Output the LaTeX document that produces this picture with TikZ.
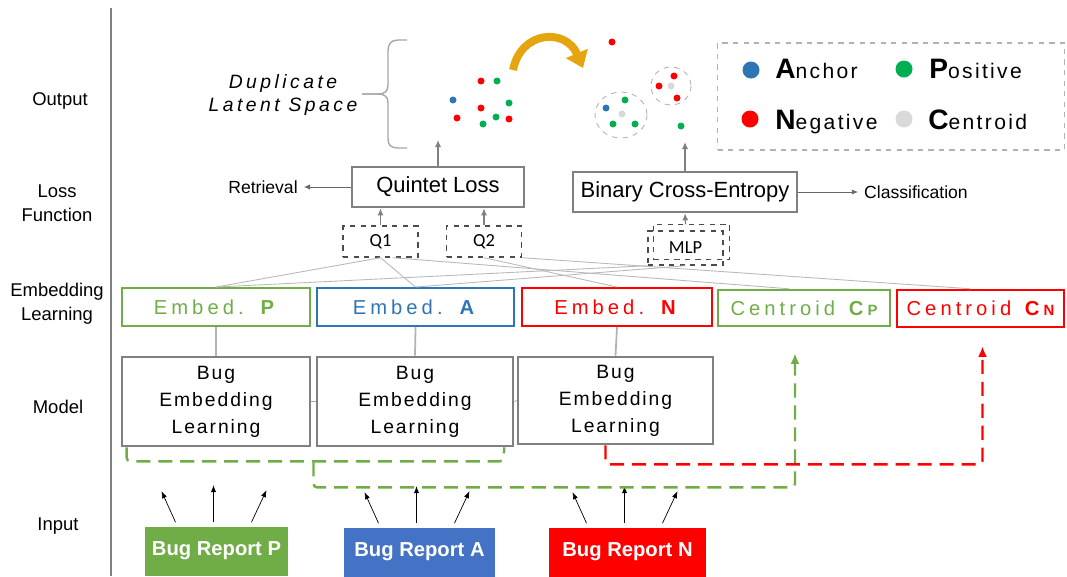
\documentclass[tikz,border=0pt]{standalone}
\usepackage{fontspec}
\setmainfont{Liberation Sans}
\newfontfamily\calfont{Carlito}
\newfontfamily\spacedfont[LetterSpace=20]{Liberation Sans}
\newfontfamily\dupfont[LetterSpace=18]{Liberation Sans}
\newfontfamily\modelfont[LetterSpace=10]{Liberation Sans}
\newfontfamily\legfont[LetterSpace=11]{Liberation Sans}
\usepackage{tikz}
\usetikzlibrary{arrows.meta,positioning,calc}

\definecolor{pgreen}{RGB}{112,173,71}
\definecolor{ablue}{RGB}{46,117,182}
\definecolor{repblue}{RGB}{68,114,196}
\definecolor{nred}{RGB}{255,0,0}
\definecolor{dotgreen}{RGB}{0,176,80}
\definecolor{dotblue}{RGB}{46,117,182}
\definecolor{centgray}{RGB}{217,217,217}
\definecolor{boxgray}{RGB}{128,128,128}
\definecolor{gold}{RGB}{228,165,15}

\begin{document}
\begin{tikzpicture}[
    x=0.02cm, y=-0.02cm,
    sidelab/.style={font=\fontsize{10.5}{13.6}\selectfont, align=center},
    lossbox/.style={rectangle, draw=boxgray, line width=1.5pt, minimum height=0.8cm, font=\fontsize{12.5}{15}\selectfont},
    qbox/.style={rectangle, draw=black!70, dashed, line width=0.8pt, minimum width=1.5cm, minimum height=0.62cm, font=\calfont\fontsize{10.5}{12}\selectfont},
    embbox/.style={rectangle, draw, line width=1.4pt, minimum height=0.75cm, font=\spacedfont\fontsize{11.5}{13}\selectfont},
    belbox/.style={rectangle, draw=boxgray, line width=1.5pt, align=center, minimum height=1.78cm, font=\modelfont\fontsize{11}{15.3}\selectfont},
    repbox/.style={rectangle, minimum height=0.98cm, text=white, font=\bfseries\fontsize{11.5}{13}\selectfont},
    legtext/.style={anchor=base west, inner sep=0pt, font=\legfont\fontsize{12}{14}\selectfont},
    link/.style={draw=gray!55, line width=0.5pt},
    upline/.style={draw=gray!60, line width=1pt},
    feed/.style={-{Latex[length=4pt,width=3pt]}, line width=0.4pt},
    grayup/.style={-{Latex[length=4pt,width=3.5pt]}, draw=gray, line width=0.7pt},
    route/.style={line width=1.4pt, dash pattern=on 8pt off 4.5pt, rounded corners=2pt},
    legdot/.style={circle, inner sep=0pt, minimum size=0.34cm}
]
    \useasboundingbox (0,0) rectangle (1067,576);

    % Row labels
    \node[sidelab] (lOut) at (60,101) {Output};
    \node[sidelab] (lLoss) at (57,203) {Loss\\Function};
    \node[sidelab] (lEmb) at (57,304) {Embedding\\Learning};
    \node[sidelab] (lMod) at (58,407) {Model};
    \node[sidelab] (lIn) at (58,526) {Input};
    \draw[gray, line width=0.8pt] (111,8) -- (111,576);

    % Input
    \node[repbox, fill=pgreen, minimum width=2.86cm] (repP) at (216.5,551) {Bug Report P};
    \node[repbox, fill=repblue, minimum width=3.02cm] (repA) at (419.5,552) {Bug Report A};
    \node[repbox, fill=nred, minimum width=3.14cm] (repN) at (627.5,552) {Bug Report N};
    \foreach \r in {repP,repA,repN}{
        \draw[feed] ($(\r.north)+(-41,-4)$) -- ++(-14,-31);
        \draw[feed] ($(\r.north)+(-3,-4)$) -- ++(0,-37);
        \draw[feed] ($(\r.north)+(35,-4)$) -- ++(15,-32);
    }

    % Model
    \node[belbox, minimum width=3.76cm] (bel1) at (216,401.5) {Bug\\Embedding\\Learning};
    \node[belbox, minimum width=3.92cm] (bel2) at (415,401.5) {Bug\\Embedding\\Learning};
    \node[belbox, minimum width=3.9cm, minimum height=1.74cm] (bel3) at (615.5,400.5) {Bug\\Embedding\\Learning};
    \draw[gray!70, line width=0.4pt, densely dashed] (bel1.east) -- (bel2.west);
    \draw[gray!70, line width=0.4pt, densely dashed] (bel2.east) -- (bel3.west);

    % Embedding learning
    \node[embbox, draw=pgreen, text=pgreen, minimum width=3.76cm] (embP) at (216,307) {Embed. \textbf{P}};
    \node[embbox, draw=ablue, text=ablue, minimum width=3.94cm] (embA) at (415.5,307) {Embed. \textbf{A}};
    \node[embbox, draw=nred, text=nred, minimum width=3.8cm] (embN) at (617,307) {Embed. \textbf{N}};
    \node[embbox, draw=pgreen, text=pgreen, minimum width=3.44cm, minimum height=0.72cm] (cenP) at (804,308) {Centroid \textbf{C}{\bfseries\fontsize{8.5}{10}\selectfont P}};
    \node[embbox, draw=nred, text=nred, minimum width=3.34cm, minimum height=0.74cm] (cenN) at (980.5,308.5) {Centroid \textbf{C}{\bfseries\fontsize{8.5}{10}\selectfont N}};
    \draw[upline] (embP.south) -- (bel1.north);
    \draw[upline] (embA.south) -- (bel2.north);
    \draw[upline] (embN.south) -- (bel3.north);

    % Centroid routes
    \coordinate (cpIn) at ($(cenP.south)+(-9,26)$);
    \coordinate (cnIn) at ($(cenN.south)+(2,18)$);
    \draw[route, draw=pgreen] ($(bel1.south west)+(6,0)$) -- ++(0,14) -- ($(bel2.south east)+(-11,14)$) -- ($(bel2.south east)+(-10,0)$);
    \draw[route, draw=pgreen, -{Latex[length=6pt,width=5pt]}] ($(bel1.south east)!0.5!(bel2.south west)+(0,15)$) -- ++(0,25) -| (cpIn);
    \draw[route, draw=nred, -{Latex[length=6pt,width=5pt]}] ($(bel3.south)+(-10,0)$) -- ++(0,19) -| (cnIn);

    % Loss functions
    \node[lossbox, minimum width=3.44cm] (quintet) at (438,187) {Quintet Loss};
    \node[lossbox, minimum width=4.48cm] (bce) at (685,192) {Binary Cross-Entropy};
    \node[qbox] (q1) at (380.5,241.5) {Q1};
    \node[qbox] (q2) at (484,241.5) {Q2};
    \node[qbox, minimum height=0.68cm] (mlp) at (685.5,248) {MLP};
    \draw[dashed, draw=black!70, line width=0.8pt] ($(mlp.south west)+(6,-6)$) -- ($(mlp.south east)+(6,-6)$) -- ($(mlp.north east)+(6,-6)$) -- ($(mlp.north west)+(6,-6)$) -- cycle;
    \draw[grayup] (q1.north) -- (q1.north |- quintet.south);
    \draw[grayup] (q2.north) -- (q2.north |- quintet.south);
    \draw[grayup] ($(mlp.north)+(0,-6)$) -- (bce.south);

    \node[font=\fontsize{10}{12}\selectfont] (retr) at (263,187) {Retrieval};
    \node[font=\fontsize{10}{12}\selectfont, anchor=west] (clas) at (858,192) {Classification};
    \draw[-{Latex[length=3.5pt,width=3pt]}, draw=gray!80!black, line width=0.5pt] (quintet.west) -- (retr.east);
    \draw[-{Latex[length=3.5pt,width=3pt]}, draw=gray!80!black, line width=0.5pt] (bce.east) -- (clas.west);

    % Inputs of the losses
    \draw[link] (q1.south) -- (embP.north);
    \draw[link] (q1.south) -- (embA.north);
    \draw[link] ($(q1.south)+(12,0)$) -- ($(cenP.north)+(-15,0)$);
    \draw[link] (q2.south) -- (embN.north);
    \draw[link] (q2.south east) -- ($(cenN.north)+(-10,0)$);
    \draw[link] (mlp.south west) -- (embP.north);
    \draw[link] (mlp.south) -- (embA.north);

    % Output
    \coordinate (dupIn) at (438,140);
    \coordinate (clusIn) at (685,142);
    \draw[grayup] (quintet.north) -- (dupIn);
    \draw[grayup] (bce.north) -- (clusIn);

    \node[font=\dupfont\itshape\fontsize{11}{13.6}\selectfont, align=center] (dup) at (283,95) {Duplicate\\Latent Space};
    \draw[gray!70, line width=0.8pt] (407,40) -- (398,40) .. controls (391,40) and (388,44) .. (388,51) -- (388,85) .. controls (388,91) and (385,94) .. (378,94) -- (362,94);
    \draw[gray!70, line width=0.8pt] (362,94) -- (378,94) .. controls (385,94) and (388,97) .. (388,103) -- (388,139) .. controls (388,145) and (391,148) .. (398,148) -- (407,148);

    % Latent space before
    \foreach \x/\y/\c in {481/81/nred, 497/81/dotgreen, 453/100/dotblue, 509/103/dotgreen, 481/108/nred, 457/118/nred, 496/117/dotgreen, 509/119/nred, 483/124/dotgreen}
        \fill[\c] (\x,\y) circle[radius=3.5];

    \draw[line width=4.5pt, draw=gold, -{Triangle[length=9pt,width=13pt]}] (513,70) .. controls (521,30) and (566,28) .. (583,68);

    % Latent space after
    \draw[gray!60, dashed, line width=0.5pt] (621,115) ellipse [x radius=26, y radius=23];
    \draw[gray!60, dashed, line width=0.5pt] (671,86) ellipse [x radius=20, y radius=19];
    \foreach \x/\y/\c in {612/42/nred, 606/108/dotblue, 625/100/dotgreen, 622/114/centgray, 613/124/dotgreen, 635/124/dotgreen, 674/76/nred, 659/86/nred, 671/86/centgray, 677/98/nred, 681/126/dotgreen}
        \fill[\c] (\x,\y) circle[radius=3.5];

    % Legend
    \node[draw=gray!60, dashed, line width=0.8pt, minimum width=6.94cm, minimum height=2.14cm] (legend) at (891,96.5) {};
    \node[legdot, fill=dotblue] (kA) at (751,70) {};
    \node[legdot, fill=dotgreen] (kP) at (904,69) {};
    \node[legdot, fill=nred] (kN) at (750,119) {};
    \node[legdot, fill=centgray] (kC) at (904,119) {};
    \node[legtext] (tA) at (775,78) {{\fontsize{16}{18}\selectfont\bfseries A}nchor};
    \node[legtext] (tP) at (929,78) {{\fontsize{16}{18}\selectfont\bfseries P}ositive};
    \node[legtext] (tN) at (775,129) {{\fontsize{16}{18}\selectfont\bfseries N}egative};
    \node[legtext] (tC) at (928,129) {{\fontsize{16}{18}\selectfont\bfseries C}entroid};
\end{tikzpicture}
\end{document}
